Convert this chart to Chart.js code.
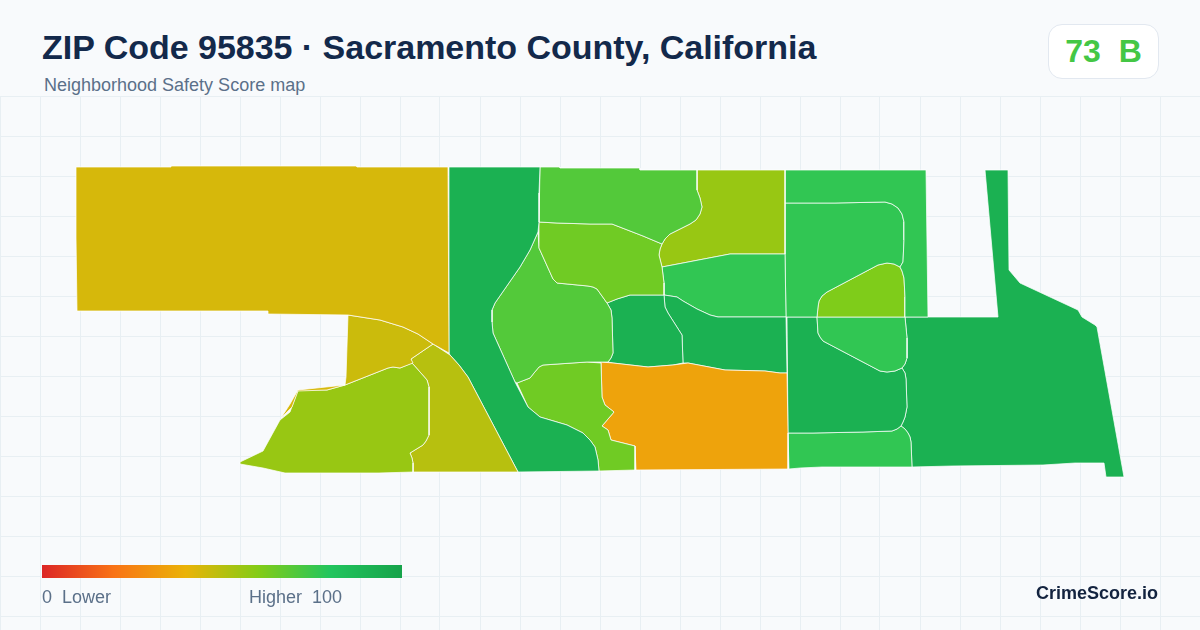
<!DOCTYPE html>
<html>
<head>
<meta charset="utf-8">
<title>ZIP Code 95835</title>
<script src="https://cdn.jsdelivr.net/npm/chart.js@4"></script>
<style>
    html, body { margin: 0; padding: 0; background: #f8fafc; }
    body { width: 1200px; height: 630px; position: relative; overflow: hidden; font-family: "Liberation Sans", Arial, sans-serif; }
    #mapa { position: absolute; left: 0; top: 96px; }
    .txt { position: absolute; white-space: pre; }
    #titulo { left: 42px; top: 27px; font-size: 34px; line-height: 40px; font-weight: bold; color: #13294b; letter-spacing: -0.02px; }
    #subtitulo { left: 44px; top: 74px; font-size: 18px; line-height: 22px; color: #5b7089; }
    #selo { position: absolute; left: 1048px; top: 24px; width: 109px; height: 53px; background: #fff; border: 1px solid #e2e8f0; border-radius: 14px; text-align: center; font-size: 32px; line-height: 53px; font-weight: bold; white-space: pre; }
    #barra { position: absolute; left: 42px; top: 565px; width: 360px; height: 13px; }
    #rotuloMin { left: 42px; top: 587px; font-size: 18px; line-height: 20px; color: #5b7089; }
    #rotuloMax { left: 249px; top: 587px; font-size: 18px; line-height: 20px; color: #5b7089; }
    #marca { right: 42px; top: 582px; font-size: 18px; line-height: 22px; font-weight: bold; color: #13233f; }
</style>
</head>
<body>
<canvas id="mapa" width="1200" height="534"></canvas>
<div class="txt" id="titulo"></div>
<div class="txt" id="subtitulo"></div>
<div id="selo"></div>
<div id="barra"></div>
<div class="txt" id="rotuloMin"></div>
<div class="txt" id="rotuloMax"></div>
<div class="txt" id="marca"></div>
<script>
const titulo = 'ZIP Code 95835 · Sacramento County, California';
const subtitulo = 'Neighborhood Safety Score map';
const notaGeral = 73;
const letraGeral = 'B';

// rampa de cores do score, 0 a 100
const rampaPosicoes = [0, 20, 40, 60, 80, 100];
const rampaCores = [[220, 38, 38], [249, 115, 22], [234, 179, 8], [132, 204, 22], [34, 197, 94], [22, 163, 74]];

// contornos, em coordenadas do mapa
const oeste = [[76,167],[171,167],[171,166],[356,166],[357,167],[448,167],[449,353],[433,344],[418,334],[403,327],[380,320],[348,315],[268,314],[268,311],[77,311],[76,238]];
const arco = [[348,315],[380,320],[403,327],[418,334],[433,344],[411,359],[413,363],[400,368],[393,367],[388,368],[345,385],[346,377]];
const lasca = [[298,390],[345,385],[327,390],[298,391],[292,407],[281,418],[290,404]];
const sudoeste = [[240,462],[263,451],[280,420],[290,412],[298,390],[327,390],[345,385],[388,368],[393,367],[400,368],[412,363],[420,372],[427,380],[429,387],[429,435],[426,441],[423,445],[410,453],[412,458],[413,463],[413,472],[379,473],[285,473],[263,468],[240,464]];
const diagonal = [[411,359],[433,344],[450,355],[459,365],[468,377],[518,472],[413,472],[413,463],[412,458],[410,453],[423,445],[426,441],[429,435],[429,387],[427,380],[420,372],[412,363]];
const rio = [[449,167],[540,167],[539,193],[539,222],[538,232],[530,250],[520,267],[495,303],[492,310],[492,322],[493,333],[515,382],[528,407],[540,417],[567,425],[583,433],[590,440],[595,447],[598,460],[599,471],[518,472],[468,377],[459,365],[450,355],[449,353]];
const norte = [[540,167],[560,167],[560,168],[640,168],[640,170],[697,170],[697,190],[700,198],[702,207],[700,214],[696,220],[690,224],[680,229],[670,234],[665,239],[662,244],[643,236],[612,224],[590,224],[557,223],[539,222]];
const centroNorte = [[539,222],[557,223],[590,224],[612,224],[643,236],[662,244],[660,249],[659,255],[662,267],[664,283],[664,295],[645,295],[630,295],[617,299],[607,303],[597,289],[593,287],[588,286],[557,283],[553,279],[539,248]];
const centroOeste = [[538,232],[539,248],[553,279],[557,283],[588,286],[593,287],[597,289],[607,303],[611,310],[612,318],[613,353],[611,358],[608,362],[587,362],[543,365],[539,367],[534,373],[530,378],[517,383],[515,382],[493,333],[492,322],[492,310],[495,303],[520,267],[530,250]];
const centroSul = [[517,383],[530,378],[534,373],[539,367],[543,365],[587,362],[601,363],[602,397],[605,405],[614,412],[602,426],[608,430],[611,440],[635,446],[635,470],[599,471],[598,460],[595,447],[590,440],[583,433],[567,425],[540,417],[528,407]];
const laranja = [[601,362],[613,363],[648,367],[673,365],[688,363],[725,370],[765,371],[780,373],[787,373],[788,433],[788,469],[636,470],[635,446],[611,440],[608,430],[602,426],[614,412],[605,405],[602,397]];
const miolo = [[607,303],[617,299],[630,295],[645,295],[664,295],[665,307],[668,313],[682,335],[683,363],[673,365],[648,367],[613,363],[608,362],[611,358],[613,353],[612,318],[611,310]];
const mioloLeste = [[664,295],[677,297],[683,301],[697,309],[710,315],[718,317],[786,317],[787,373],[780,373],[765,371],[725,370],[688,363],[683,363],[682,335],[668,313],[665,307]];
const faixa = [[662,267],[730,254],[758,254],[785,254],[786,317],[718,317],[710,315],[697,309],[683,301],[677,297],[664,295],[664,283]];
const nordeste = [[697,170],[785,170],[785,254],[758,254],[730,254],[662,267],[659,255],[660,249],[662,244],[665,239],[670,234],[680,229],[690,224],[696,220],[700,214],[702,207],[700,198],[697,190]];
const moldura = [[785,170],[926,170],[928,317],[905,317],[905,297],[904,278],[902,271],[900,267],[903,262],[904,240],[904,222],[902,214],[898,208],[892,204],[885,202],[835,203],[785,203]];
const quadra = [[785,203],[835,203],[885,202],[892,204],[898,208],[902,214],[904,222],[904,240],[903,262],[900,267],[894,264],[887,263],[878,265],[827,292],[822,296],[819,301],[818,307],[817,317],[786,317],[785,254]];
const gota = [[900,267],[902,271],[904,278],[905,297],[905,317],[817,317],[818,307],[819,301],[822,296],[827,292],[878,265],[887,263],[894,264]];
const gotaSul = [[817,317],[905,317],[907,338],[907,358],[905,364],[902,368],[895,371],[887,372],[880,371],[823,341],[820,337],[818,333]];
const lesteSul = [[787,317],[817,317],[818,333],[820,337],[823,341],[880,371],[887,372],[895,371],[902,368],[905,373],[906,379],[907,407],[905,417],[903,422],[901,426],[897,429],[892,431],[863,432],[813,433],[788,433]];
const rodape = [[788,433],[813,433],[863,432],[892,431],[897,429],[901,426],[905,429],[908,433],[910,437],[911,442],[912,467],[822,467],[800,468],[789,469]];
const leste = [[985,170],[1008,170],[1009,270],[1020,283],[1078,310],[1082,317],[1095,325],[1097,327],[1124,477],[1106,477],[1104,463],[1075,463],[1043,465],[952,466],[912,467],[911,442],[910,437],[908,433],[905,429],[901,426],[903,422],[905,417],[907,407],[906,379],[905,373],[902,368],[905,364],[907,358],[907,338],[905,317],[928,317],[963,317],[998,317]];

const contornos = [oeste, arco, lasca, sudoeste, diagonal, rio, norte, centroNorte, centroOeste, centroSul, laranja, miolo, mioloLeste, faixa, nordeste, moldura, quadra, gota, gotaSul, lesteSul, rodape, leste];
const notas = [44, 46, 44, 56, 50, 92, 70, 64, 70, 64, 35, 92, 92, 77, 56, 77, 77, 61, 77, 92, 77, 92];

// legenda
const rotuloMin = '0  Lower';
const rotuloMax = 'Higher  100';
const marca = 'CrimeScore.io';

function corDaNota(nota) {
    let i = 0;
    while (i < rampaPosicoes.length - 2 && nota > rampaPosicoes[i + 1]) i++;
    const t = (nota - rampaPosicoes[i]) / (rampaPosicoes[i + 1] - rampaPosicoes[i]);
    const c = rampaCores[i].map((v, k) => Math.round(v + (rampaCores[i + 1][k] - v) * t));
    return `rgb(${c[0]}, ${c[1]}, ${c[2]})`;
}

document.getElementById('titulo').textContent = titulo;
document.getElementById('subtitulo').textContent = subtitulo;
const selo = document.getElementById('selo');
selo.textContent = `${notaGeral}  ${letraGeral}`;
selo.style.color = corDaNota(notaGeral);
document.getElementById('rotuloMin').textContent = rotuloMin;
document.getElementById('rotuloMax').textContent = rotuloMax;
document.getElementById('marca').textContent = marca;
document.getElementById('barra').style.background = 'linear-gradient(to right, ' +
    rampaPosicoes.map(p => `${corDaNota(p)} ${p}%`).join(', ') + ')';

const conjuntos = contornos.map((anel, i) => ({
    data: anel.concat([anel[0]]).map(p => ({ x: p[0], y: p[1] })),
    showLine: true,
    fill: 'shape',
    backgroundColor: corDaNota(notas[i]),
    borderColor: 'rgba(255, 255, 255, 0.9)',
    borderWidth: 0.8,
    pointRadius: 0,
    tension: 0
}));

const ticksX = [];
for (let x = 0; x <= 1200; x += 40) ticksX.push(x);
const ticksY = [];
for (let y = 96; y <= 630; y += 40) ticksY.push(y);

const ctx = document.getElementById('mapa').getContext('2d');
new Chart(ctx, {
    type: 'scatter',
    data: { datasets: conjuntos },
    options: {
        responsive: false,
        animation: false,
        devicePixelRatio: 1,
        layout: { padding: 0 },
        plugins: { legend: { display: false }, tooltip: { enabled: false } },
        scales: {
            x: {
                type: 'linear', min: 0, max: 1200,
                afterBuildTicks: s => { s.ticks = ticksX.map(v => ({ value: v })); },
                ticks: { display: false },
                grid: { color: '#e8eff3', lineWidth: 1, drawTicks: false },
                border: { display: false }
            },
            y: {
                type: 'linear', min: 96, max: 630, reverse: true,
                afterBuildTicks: s => { s.ticks = ticksY.map(v => ({ value: v })); },
                ticks: { display: false },
                grid: { color: '#e8eff3', lineWidth: 1, drawTicks: false },
                border: { display: false }
            }
        }
    }
});
</script>
</body>
</html>
